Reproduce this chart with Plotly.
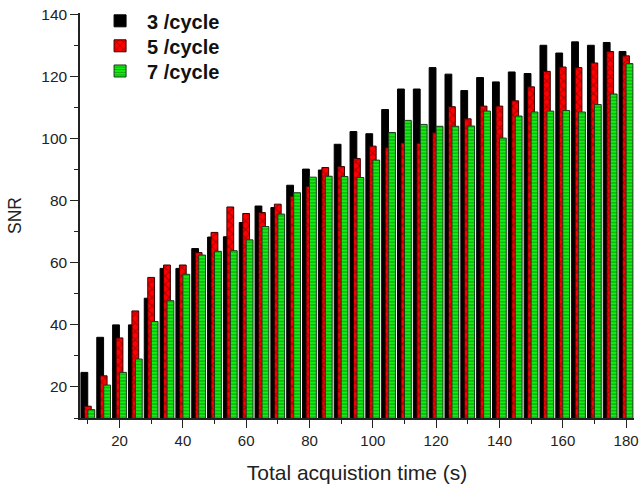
import plotly.graph_objects as go

times = [10, 15, 20, 25, 30, 35, 40, 45, 50, 55, 60, 65, 70, 75, 80, 85, 90, 95,
         100, 105, 110, 115, 120, 125, 130, 135, 140, 145, 150, 155, 160, 165, 170, 175, 180]

snr_3 = [24.7, 36.0, 40.0, 40.0, 48.6, 58.2, 58.2, 64.6, 68.3, 68.4, 73.0, 78.3, 77.8, 85.0,
         90.2, 89.9, 98.2, 102.3, 101.6, 109.4, 116.0, 116.0, 122.9, 120.8, 115.5, 119.7,
         118.3, 121.5, 121.0, 130.1, 127.6, 131.2, 130.1, 131.0, 128.1]

snr_5 = [13.8, 23.6, 35.8, 44.5, 55.3, 59.3, 59.3, 63.3, 69.8, 78.0, 75.9, 76.2, 78.9, 81.4,
         84.6, 90.7, 91.0, 93.6, 97.6, 97.1, 98.6, 98.5, 101.9, 110.3, 106.4, 110.5,
         110.5, 112.2, 116.7, 121.7, 123.1, 122.9, 124.4, 128.1, 126.7]

snr_7 = [12.7, 20.6, 24.7, 29.0, 41.1, 47.8, 56.3, 62.5, 63.7, 63.9, 67.4, 71.7, 75.7, 82.6,
         87.6, 87.9, 87.8, 87.5, 93.1, 102.0, 105.9, 104.6, 104.0, 104.0, 104.1, 108.9,
         100.2, 107.3, 108.6, 108.9, 109.1, 108.6, 111.0, 114.4, 124.2]

names = ["3 /cycle", "5 /cycle", "7 /cycle"]

BAR_W = 2.15
FONT = "Liberation Sans, Arial, sans-serif"

fig = go.Figure()
fig.add_trace(go.Bar(
    x=times, y=snr_3, name=names[0], width=BAR_W, offset=-2.2, legend="legend",
    marker=dict(color="#000000", line=dict(color="#000000", width=1)),
))
fig.add_trace(go.Bar(
    x=times, y=snr_5, name=names[1], width=BAR_W, offset=-1.1, legend="legend2",
    marker=dict(color="#ff0000", line=dict(color="#3a0000", width=1),
                pattern=dict(shape="x", fgcolor="#5a0000", bgcolor="#ff0000",
                             size=6, solidity=0.3, fillmode="overlay")),
))
fig.add_trace(go.Bar(
    x=times, y=snr_7, name=names[2], width=BAR_W, offset=0.0, legend="legend3",
    marker=dict(color="#00ee00", line=dict(color="#1a3a1a", width=1),
                pattern=dict(shape="-", fgcolor="#104010", bgcolor="#11ee11",
                             size=3.3, solidity=0.3, fillmode="overlay")),
))

legend_font = dict(family=FONT, size=20, color="#111111", weight="bold")
def leg(ypos):
    return dict(x=0.0236, y=ypos, xanchor="left", yanchor="middle",
                font=legend_font, bgcolor="rgba(0,0,0,0)", itemwidth=44)

fig.update_layout(
    width=639, height=485,
    margin=dict(l=80, r=5, t=13, b=67, autoexpand=False),
    barmode="overlay",
    plot_bgcolor="white", paper_bgcolor="white",
    font=dict(family=FONT, size=15, color="#222222"),
    showlegend=True,
    legend=leg(0.9807),
    legend2=leg(0.919),
    legend3=leg(0.8568),
    xaxis=dict(range=[7.5, 182.5], tick0=0, dtick=20, ticks="outside", ticklen=8,
               tickwidth=1.2, tickcolor="#222", showline=True, linecolor="#222",
               linewidth=1.5, showgrid=False, zeroline=False, ticklabeloverflow="allow",
               minor=dict(dtick=10, tick0=0, ticks="outside", ticklen=4, tickcolor="#222",
                          tickwidth=1.2, showgrid=False),
               title=dict(text="Total acquistion time (s)", font=dict(size=21), standoff=18),
               tickfont=dict(size=15)),
    yaxis=dict(range=[10, 140.5], tick0=0, dtick=20, ticks="outside", ticklen=8,
               tickwidth=1.2, tickcolor="#222", showline=True, linecolor="#222",
               linewidth=1.5, showgrid=False, zeroline=False,
               minor=dict(dtick=10, tick0=0, ticks="outside", ticklen=4, tickcolor="#222",
                          tickwidth=1.2, showgrid=False),
               title=dict(text="SNR", font=dict(size=17.5), standoff=15),
               tickfont=dict(size=15.5)),
)

fig.write_html("out.html")
